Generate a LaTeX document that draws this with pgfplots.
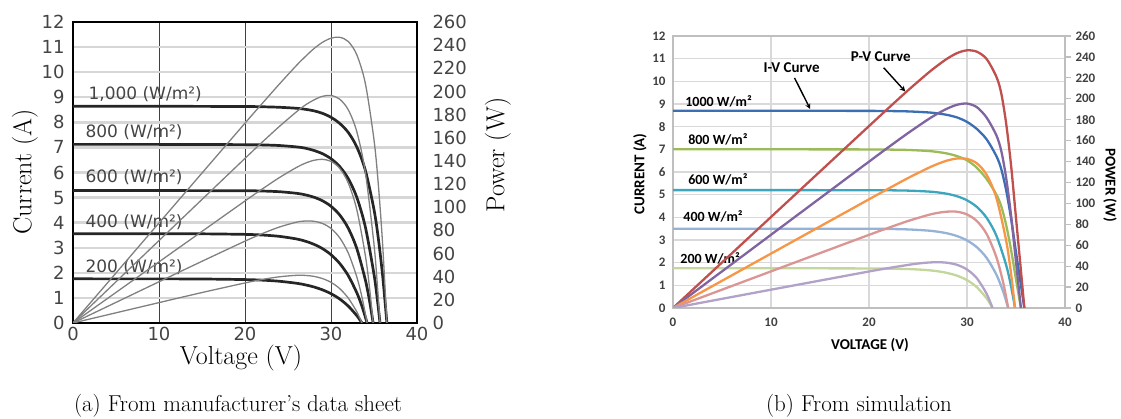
\documentclass[border=0pt]{standalone}
\usepackage{fontspec}
\usepackage{pgfplots}
\pgfplotsset{compat=1.18}
\newfontfamily\dv{DejaVu Sans}
\newfontfamily\cb{Carlito}
\definecolor{cI1}{HTML}{3C6EB4}
\definecolor{cI2}{HTML}{9BBB59}
\definecolor{cI3}{HTML}{3BA6BE}
\definecolor{cI4}{HTML}{95B3D7}
\definecolor{cI5}{HTML}{C3D69B}
\definecolor{cP1}{HTML}{C0504D}
\definecolor{cP2}{HTML}{8064A2}
\definecolor{cP3}{HTML}{F79646}
\definecolor{cP4}{HTML}{D99694}
\definecolor{cP5}{HTML}{B3A2C7}
\definecolor{tickg}{HTML}{444444}
\definecolor{gridb}{HTML}{D9D9D9}
\definecolor{axb}{HTML}{BFBFBF}
\definecolor{tickb}{HTML}{404040}
\begin{document}
\begin{tikzpicture}
\useasboundingbox (0pt,0pt) rectangle (1121pt,419pt);
% ================= (a) datasheet =================
\pgfplotsset{
  dsbase/.style={at={(73pt,96pt)}, anchor=south west, scale only axis,
    width=344pt, height=301pt, xmin=0, xmax=40,
    /pgf/number format/assume math mode=true,
    tick label style={font=\dv\fontsize{18}{18}\selectfont, text=tickg},
    major tick style={draw=none}},
}
\begin{axis}[dsbase, ymin=0, ymax=12,
  xtick={0,10,20,30,40}, ytick={0,1,...,12},
  xmajorgrids, ymajorgrids,
  x grid style={line width=0.9pt, black!75},
  y grid style={line width=2.4pt, black!16},
  axis line style={line width=2.8pt, black},
  yticklabel style={xshift=-5pt},
  xticklabel style={yshift=-1pt}]
\addplot[smooth, line width=2.7pt, black!85] coordinates {(0,8.64)(10,8.64)(20,8.63)(22,8.62)(24,8.60)(26,8.56)(27,8.52)(28,8.46)(29,8.36)(30,8.20)(31,7.96)(32,7.60)(33,7.02)(34,6.08)(35,4.52)(35.5,3.38)(36,1.90)(36.5,0)};
\addplot[smooth, line width=2.7pt, black!85] coordinates {(0,7.12)(10,7.12)(20,7.11)(22,7.10)(24,7.075)(26,7.02)(27,6.97)(28,6.88)(29,6.75)(30,6.55)(31,6.24)(32,5.76)(33,5.01)(34,3.82)(35,1.94)(35.4,0.904)(35.7,0)};
\addplot[smooth, line width=2.7pt, black!85] coordinates {(0,5.28)(10,5.28)(20,5.272)(22,5.261)(24,5.234)(26,5.170)(27,5.110)(28,5.017)(29,4.874)(30,4.653)(31,4.312)(32,3.784)(33,2.968)(34,1.709)(34.5,0.843)(34.9,0)};
\addplot[smooth, line width=2.7pt, black!85] coordinates {(0,3.56)(10,3.559)(15,3.555)(20,3.533)(22,3.507)(24,3.454)(26,3.350)(27,3.263)(28,3.140)(29,2.967)(30,2.723)(31,2.379)(32,1.893)(33,1.207)(33.6,0.666)(34.2,0)};
\addplot[smooth, line width=2.7pt, black!85] coordinates {(0,1.76)(10,1.759)(15,1.754)(20,1.731)(22,1.708)(24,1.664)(26,1.584)(27,1.522)(28,1.438)(29,1.323)(30,1.169)(31,0.960)(32,0.676)(33,0.293)(33.6,0)};
\begin{scope}[font=\dv\fontsize{17}{17}\selectfont, text=tickg]
\node[anchor=west] at (axis cs:1.4,9.12) {1,000 (W/m²)};
\node[anchor=west] at (axis cs:1.05,7.6) {800 (W/m²)};
\node[anchor=west] at (axis cs:1.05,5.8) {600 (W/m²)};
\node[anchor=west] at (axis cs:1.05,4.0) {400 (W/m²)};
\node[anchor=west] at (axis cs:1.05,2.24) {200 (W/m²)};
\end{scope}
\end{axis}
\begin{axis}[dsbase, ymin=0, ymax=260,
  axis x line=none, axis y line*=right,
  ytick={0,20,...,260}, xtick=\empty,
  axis line style={line width=2.8pt, black},
  yticklabel style={xshift=12pt}]
\addplot[smooth, line width=1.3pt, black!50] coordinates {(0,0)(10,86.4)(20,172.6)(22,189.6)(24,206.4)(26,222.6)(27,230.0)(28,236.9)(29,242.4)(30,246.0)(31,246.8)(32,243.2)(33,231.7)(34,206.7)(35,158.2)(35.5,120.0)(36,68.4)(36.5,0)};
\addplot[smooth, line width=1.3pt, black!50] coordinates {(0,0)(10,71.2)(20,142.2)(22,156.2)(24,169.8)(26,182.5)(27,188.2)(28,192.6)(29,195.8)(30,196.5)(31,193.4)(32,184.3)(33,165.3)(34,129.9)(35,67.9)(35.4,32.0)(35.7,0)};
\addplot[smooth, line width=1.3pt, black!50] coordinates {(0,0)(10,52.8)(20,105.4)(22,115.7)(24,125.6)(26,134.4)(27,138.0)(28,140.5)(29,141.4)(30,139.6)(31,133.7)(32,121.1)(33,97.9)(34,58.1)(34.5,29.1)(34.9,0)};
\addplot[smooth, line width=1.3pt, black!50] coordinates {(0,0)(10,35.6)(15,53.3)(20,70.7)(22,77.2)(24,82.9)(26,87.1)(27,88.1)(28,87.9)(29,86.0)(30,81.7)(31,73.7)(32,60.6)(33,39.8)(33.6,22.4)(34.2,0)};
\addplot[smooth, line width=1.3pt, black!50] coordinates {(0,0)(10,17.6)(15,26.3)(20,34.6)(22,37.6)(24,39.9)(26,41.2)(27,41.1)(28,40.3)(29,38.4)(30,35.1)(31,29.8)(32,21.6)(33,9.7)(33.6,0)};
\end{axis}
\node[font=\fontsize{26}{26}\selectfont, rotate=90] at (25pt,247pt) {Current (A)};
\node[font=\fontsize{26}{26}\selectfont, rotate=90] at (498pt,264pt) {Power (W)};
\node[font=\fontsize{26}{26}\selectfont] at (241pt,61pt) {Voltage (V)};
% ================= (b) simulation =================
\pgfplotsset{
  simbase/.style={at={(673pt,111pt)}, anchor=south west, scale only axis,
    width=392pt, height=272pt, xmin=0, xmax=40,
    /pgf/number format/assume math mode=true,
    tick label style={font=\cb\bfseries\fontsize{13}{13}\selectfont, text=tickb}},
}
\begin{axis}[simbase, ymin=0, ymax=12,
  xtick={0,10,20,30,40}, ytick={0,1,...,12},
  xmajorgrids, ymajorgrids,
  grid style={line width=1.2pt, gridb},
  axis line style={line width=1.2pt, axb},
  major tick style={draw=none},
  yticklabel style={xshift=-4pt},
  xticklabel style={yshift=-6pt}]
\addplot[smooth, line width=2.3pt, cI1] coordinates {(0,8.7)(10,8.7)(20,8.696)(22,8.689)(24,8.673)(26,8.629)(27,8.586)(28,8.516)(29,8.404)(30,8.21)(31,7.90)(32,7.44)(33,6.70)(33.5,6.12)(34,5.18)(34.5,3.94)(35,2.46)(35.5,1.01)(35.85,0)};
\addplot[smooth, line width=2.3pt, cI2] coordinates {(0,7.0)(10,7.0)(20,6.996)(22,6.989)(24,6.972)(26,6.928)(27,6.883)(28,6.812)(29,6.698)(30,6.514)(31,6.19)(32,5.69)(33,5.0)(33.5,4.48)(34,3.65)(34.5,2.55)(35,1.26)(35.5,0)};
\addplot[smooth, line width=2.3pt, cI3] coordinates {(0,5.2)(10,5.2)(20,5.197)(22,5.192)(24,5.178)(26,5.139)(27,5.100)(28,5.035)(29,4.928)(30,4.751)(31,4.460)(32,3.980)(33,3.189)(34,1.884)(34.5,0.943)(34.9,0)};
\addplot[smooth, line width=2.3pt, cI4] coordinates {(0,3.5)(10,3.5)(20,3.495)(22,3.486)(24,3.466)(26,3.416)(27,3.367)(28,3.291)(29,3.171)(30,2.981)(31,2.683)(32,2.212)(33,1.471)(33.7,0.712)(34.2,0)};
\addplot[smooth, line width=2.3pt, cI5] coordinates {(0,1.75)(10,1.75)(15,1.7495)(20,1.745)(22,1.737)(24,1.718)(25,1.699)(26,1.669)(27,1.621)(28,1.544)(29,1.422)(30,1.228)(31,0.919)(32,0.426)(32.6,0)};
\begin{scope}[font=\cb\bfseries\fontsize{14}{14}\selectfont, text=black]
\node[anchor=west] at (axis cs:0.9,9.13) {1000 W/m²};
\node[anchor=west] at (axis cs:1.2,7.45) {800 W/m²};
\node[anchor=west] at (axis cs:1.2,5.69) {600 W/m²};
\node[anchor=west] at (axis cs:0.7,4.06) {400 W/m²};
\node[anchor=west] at (axis cs:0.4,2.2) {200 W/m²};
\node at (axis cs:12.1,10.6) {\fontsize{15}{15}\selectfont I-V Curve};
\node at (axis cs:21.2,11.07) {\fontsize{15}{15}\selectfont P-V Curve};
\end{scope}
\draw[-stealth, line width=1.4pt, black] (axis cs:12.4,10.15) -- (axis cs:14,8.78);
\draw[-stealth, line width=1.4pt, black] (axis cs:21.5,10.6) -- (axis cs:23.7,9.55);
\end{axis}
\begin{axis}[simbase, ymin=0, ymax=260,
  axis x line=none, axis y line*=right,
  ytick={0,20,...,260}, xtick=\empty,
  axis line style={line width=1.2pt, axb},
  major tick style={line width=1.2pt, axb},
  tick align=outside, major tick length=6pt,
  yticklabel style={xshift=1pt}]
\addplot[smooth, line width=2.3pt, cP1] coordinates {(0,0)(10,87)(20,173.9)(22,191.2)(24,208.2)(26,224.4)(27,231.8)(28,238.5)(29,243.7)(30,246.3)(31,245)(32,238)(33,221)(33.5,205)(34,176)(34.5,136)(35,86)(35.5,36)(35.85,0)};
\addplot[smooth, line width=2.3pt, cP2] coordinates {(0,0)(10,70)(20,139.9)(22,153.8)(24,167.3)(26,180.1)(27,185.8)(28,190.7)(29,194.3)(30,195.4)(31,192)(32,182)(33,165)(33.5,150)(34,124)(34.5,88)(35,44)(35.5,0)};
\addplot[smooth, line width=2.3pt, cP3] coordinates {(0,0)(10,52)(20,103.9)(22,114.2)(24,124.3)(26,133.6)(27,137.7)(28,141.0)(29,142.9)(30,142.5)(31,138.3)(32,127.4)(33,105.2)(34,64.1)(34.5,32.5)(34.9,0)};
\addplot[smooth, line width=2.3pt, cP4] coordinates {(0,0)(10,35)(20,69.9)(22,76.7)(24,83.2)(26,88.8)(27,90.9)(28,92.1)(29,92.0)(30,89.4)(31,83.2)(32,70.8)(33,48.5)(33.7,24.0)(34.2,0)};
\addplot[smooth, line width=2.3pt, cP5] coordinates {(0,0)(10,17.5)(15,26.2)(20,34.9)(22,38.2)(24,41.2)(25,42.5)(26,43.4)(27,43.8)(28,43.2)(29,41.2)(30,36.8)(31,28.5)(32,13.6)(32.6,0)};
\end{axis}
\node[font=\cb\bfseries\fontsize{15}{15}\selectfont, rotate=90, text=black] at (640pt,245pt) {CURRENT (A)};
\node[font=\cb\bfseries\fontsize{15}{15}\selectfont, rotate=-90, text=black] at (1110pt,234pt) {POWER (W)};
\node[font=\cb\bfseries\fontsize{15}{15}\selectfont, text=black] at (870pt,74pt) {VOLTAGE (V)};
% captions
\node[font=\fontsize{23}{23}\selectfont, anchor=base] at (238pt,7pt) {(a) From manufacturer's data sheet};
\node[font=\fontsize{23}{23}\selectfont, anchor=base] at (859pt,7pt) {(b) From simulation};
\end{tikzpicture}
\end{document}
